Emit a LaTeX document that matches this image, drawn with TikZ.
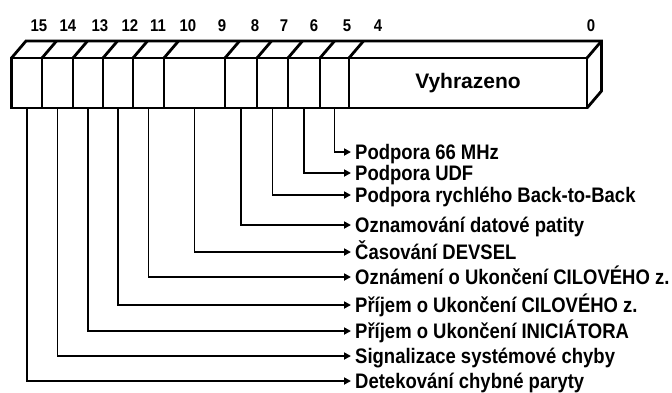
\documentclass[tikz,border=0pt]{standalone}
\usepackage{fontspec}
\setmainfont{Liberation Sans}
\newfontfamily\lblfont[FakeStretch=0.88]{Liberation Sans Bold}
\newfontfamily\boldfont{Liberation Sans Bold}
\usetikzlibrary{arrows.meta}
\begin{document}
\begin{tikzpicture}[x=1pt,y=-1pt,
  cell/.style={draw, line width=2.8pt, minimum height=50pt, inner sep=0pt, anchor=center},
  bitlbl/.style={font=\lblfont\fontsize{17}{17}\selectfont, inner sep=0pt},
  desc/.style={font=\lblfont\fontsize{21}{21}\selectfont, anchor=west, inner xsep=4pt, inner ysep=0pt, text height=15pt, text depth=0pt},
  conn/.style={line width=1.8pt, -{Triangle[length=7pt,width=7pt]}},
  box/.style={line width=2.8pt, line join=miter}]
\useasboundingbox (0,0) rectangle (672,392);
% bit numbers
\foreach \n/\x in {15/39,14/68,13/100,12/130,11/158,10/188,9/222,8/255,7/284,6/314,5/347,4/378,0/591}
  \node[bitlbl] (b\n) at (\x,26) {\n};
% top face
\draw[box] (11.5,58) -- (26,41) -- (601.5,41) -- (601.5,91) -- (587,108);
\foreach \e in {42,73,103,133,164,225,257,288,320,349,587}
  \draw[box] (\e,58) -- (\e+14.5,41);
% front cells
\node[cell, minimum width=30.5pt] (c15) at (26.75,83) {};
\node[cell, minimum width=31pt] (c14) at (57.5,83) {};
\node[cell, minimum width=30pt] (c13) at (88,83) {};
\node[cell, minimum width=30pt] (c12) at (118,83) {};
\node[cell, minimum width=31pt] (c11) at (148.5,83) {};
\node[cell, minimum width=61pt] (c10) at (194.5,83) {};
\node[cell, minimum width=32pt] (c8) at (241,83) {};
\node[cell, minimum width=31pt] (c7) at (272.5,83) {};
\node[cell, minimum width=32pt] (c6) at (304,83) {};
\node[cell, minimum width=29pt] (c5) at (334.5,83) {};
\node[cell, minimum width=238pt, font=\boldfont\fontsize{21}{21}\selectfont] (cR) at (468,83) {Vyhrazeno};
% descriptions
\node[desc] (t5) at (351,152) {Podpora 66 MHz};
\node[desc] (t6) at (351,173) {Podpora UDF};
\node[desc] (t7) at (351,195) {Podpora rychlého Back-to-Back};
\node[desc] (t8) at (351,225) {Oznamování datové patity};
\node[desc] (t10) at (351,252) {Časování DEVSEL};
\node[desc] (t11) at (351,277) {Oznámení o Ukončení CILOVÉHO z.};
\node[desc] (t12) at (351,305) {Příjem o Ukončení CILOVÉHO z.};
\node[desc] (t13) at (351,331) {Příjem o Ukončení INICIÁTORA};
\node[desc] (t14) at (351,356) {Signalizace systémové chyby};
\node[desc] (t15) at (351,381) {Detekování chybné paryty};
% connectors
\foreach \i in {5,6,7,8,10,11,12,13,14,15}
  \draw[conn] (c\i.south) |- (t\i.west);
\end{tikzpicture}
\end{document}
